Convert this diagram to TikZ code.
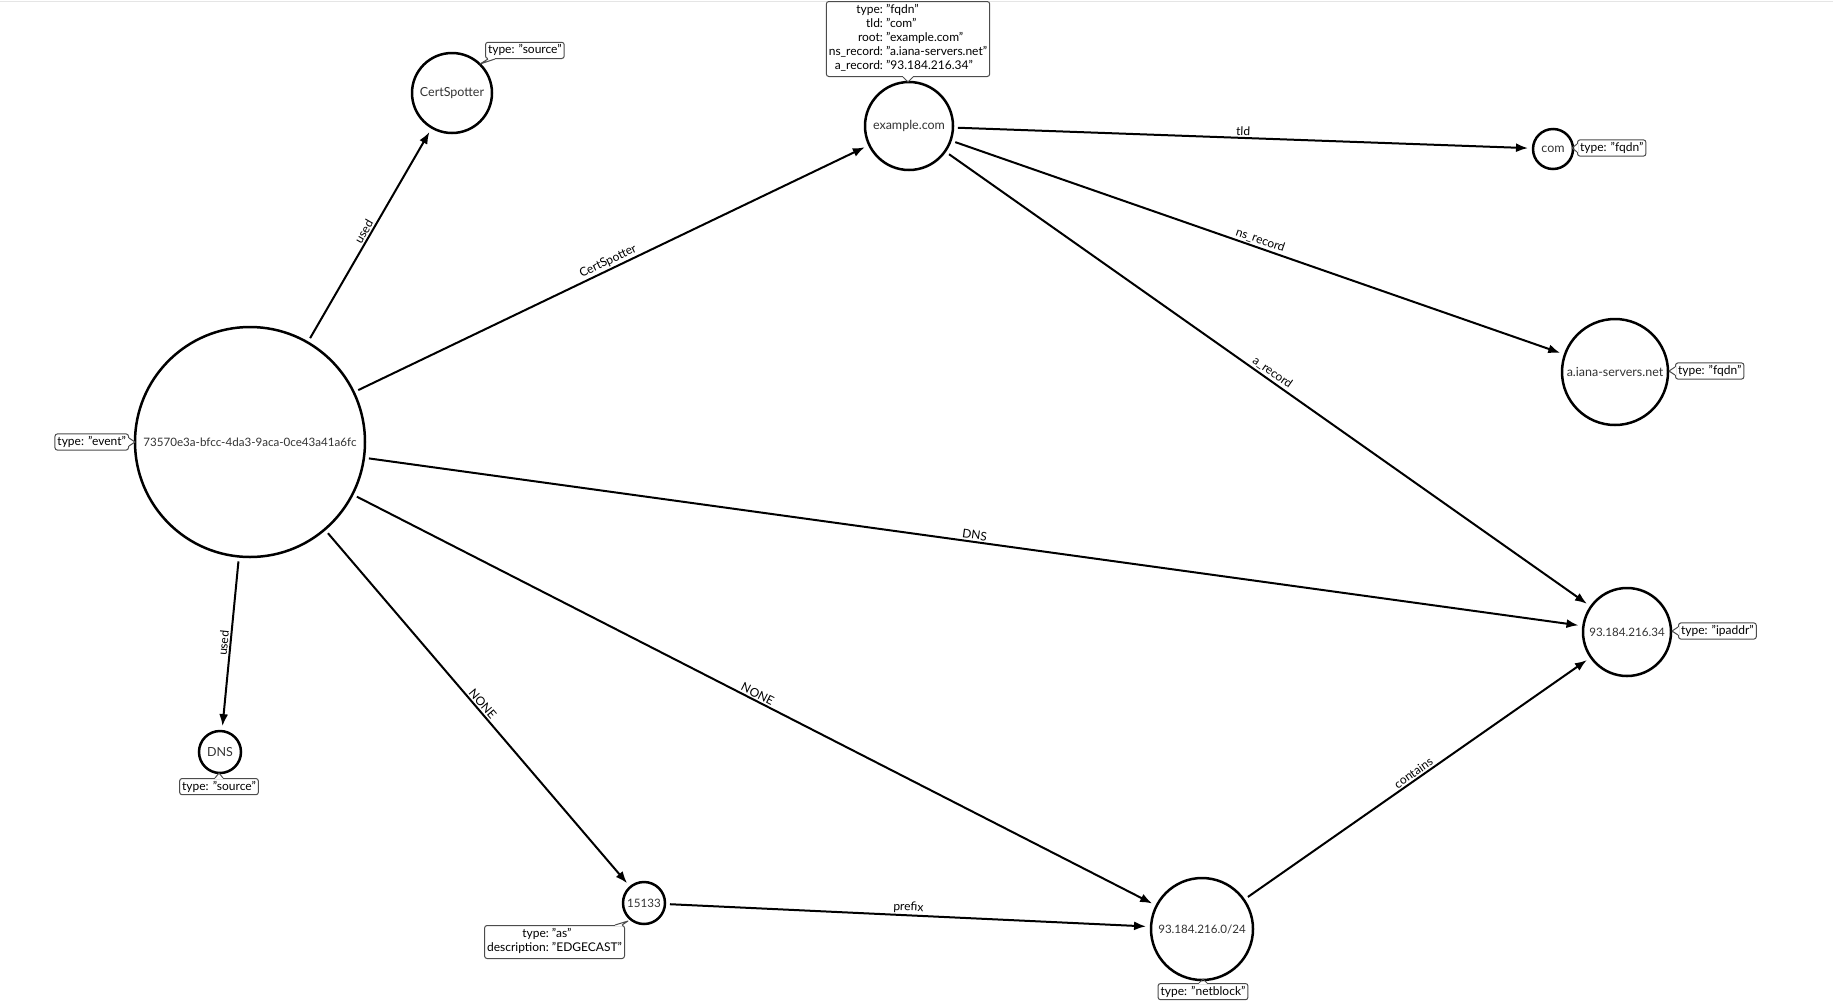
\documentclass[tikz,border=0pt]{standalone}
\usepackage{fontspec}
\setmainfont{Lato}
\usetikzlibrary{arrows.meta,calc}
\newcommand\calloutptr[3]{%
  \draw[white, line width=1.8pt] (#1) -- (#3);
  \draw[draw=black!70, line width=1pt, line join=round] (#1) -- (#2) -- (#3);}
\tikzset{
  ent/.style={circle, draw, line width=2.5pt, fill=white, inner sep=0pt, outer sep=5pt,
    text=black!80, font=\fontsize{12.5}{14}\selectfont},
  numtext/.style={font=\fontsize{11.6}{14}\selectfont},
  rel/.style={line width=2pt, -{Latex[length=12pt,width=9pt]}},
  lbl/.style={midway, sloped, above, inner sep=1.5pt, font=\fontsize{12}{14}\selectfont},
  infobox/.style={draw=black!70, line width=1pt, rounded corners=2.5pt, fill=white,
    inner sep=2.5pt, font=\fontsize{12}{14}\selectfont},
}
\begin{document}
\begin{tikzpicture}[x=1pt, y=-1pt]
\useasboundingbox (0,0) rectangle (1833,1002);
\draw[black!10, line width=1pt] (0,1) -- (1833,1);

% entities
\node[ent, numtext, minimum size=230pt] (ev) at (250,442) {73570e3a-bfcc-4da3-9aca-0ce43a41a6fc};
\node[ent, minimum size=80pt] (cs) at (452,93) {CertSpotter};
\node[ent, minimum size=88pt] (ex) at (909,126) {example.com};
\node[ent, minimum size=40pt] (com) at (1553,149) {com};
\node[ent, minimum size=106pt] (ns) at (1615,372) {a.iana-servers.net};
\node[ent, numtext, minimum size=88pt] (ip) at (1627,632) {93.184.216.34};
\node[ent, numtext, minimum size=102pt] (nb) at (1202,929) {93.184.216.0/24};
\node[ent, numtext, minimum size=42pt] (as) at (644,903) {15133};
\node[ent, minimum size=42pt] (dns) at (220,752) {DNS};

% relations
\draw[rel] (ev) -- node[lbl]{used} (cs);
\draw[rel] (ev) -- node[lbl]{CertSpotter} (ex);
\draw[rel] (ev) -- node[lbl]{DNS} (ip);
\draw[rel] (ev) -- node[lbl]{used} (dns);
\draw[rel] (ev) -- node[lbl]{NONE} (as);
\draw[rel] (ev) -- node[lbl]{NONE} (nb);
\draw[rel] (ex) -- node[lbl]{tld} (com);
\draw[rel] (ex) -- node[lbl]{ns\_record} (ns);
\draw[rel] (ex) -- node[lbl]{a\_record} (ip);
\draw[rel] (as) -- node[lbl]{prefix} (nb);
\draw[rel] (nb) -- node[lbl]{contains} (ip);

% property boxes
\node[infobox, anchor=east] (evb) at (129,442) {type: "event"};
\coordinate (evt) at (135,442);
\calloutptr{$(evb.east)+(0,-4)$}{evt}{$(evb.east)+(0,4)$}

\node[infobox, anchor=south west] (csb) at (485,59) {type: "source"};
\coordinate (cst) at (480,64);
\calloutptr{$(csb.south west)+(3,0)$}{cst}{$(csb.south west)+(10,0)$}

\node[infobox, anchor=south] (exb) at (908,77) {%
  \begin{tabular}{@{}r@{\ }l@{}}
  type: & "fqdn"\\
  tld: & "com"\\
  root: & "example.com"\\
  ns\_record: & "a.iana-servers.net"\\
  a\_record: & "93.184.216.34"
  \end{tabular}};
\coordinate (ext) at (908,82);
\calloutptr{$(exb.south)+(-5,0)$}{ext}{$(exb.south)+(5,0)$}

\node[infobox, anchor=west] (comb) at (1577,148) {type: "fqdn"};
\coordinate (comt) at (1572,148);
\calloutptr{$(comb.west)+(0,-4)$}{comt}{$(comb.west)+(0,4)$}

\node[infobox, anchor=west] (nsb) at (1675,371) {type: "fqdn"};
\coordinate (nst) at (1669,371);
\calloutptr{$(nsb.west)+(0,-4)$}{nst}{$(nsb.west)+(0,4)$}

\node[infobox, anchor=west] (ipb) at (1678,631) {type: "ipaddr"};
\coordinate (ipt) at (1672,631);
\calloutptr{$(ipb.west)+(0,-4)$}{ipt}{$(ipb.west)+(0,4)$}

\node[infobox, anchor=north] (dnsb) at (219,778) {type: "source"};
\coordinate (dnst) at (219,773);
\calloutptr{$(dnsb.north)+(-4,0)$}{dnst}{$(dnsb.north)+(4,0)$}

\node[infobox, anchor=north east] (asb) at (625,925) {%
  \begin{tabular}{@{}r@{\ }l@{}}
  type: & "as"\\
  description: & "EDGECAST"
  \end{tabular}};
\coordinate (ast) at (628,921);
\calloutptr{$(asb.north east)+(-10,0)$}{ast}{$(asb.north east)+(-3,0)$}

\node[infobox, anchor=north] (nbb) at (1203,983) {type: "netblock"};
\coordinate (nbt) at (1203,979);
\calloutptr{$(nbb.north)+(-4,0)$}{nbt}{$(nbb.north)+(4,0)$}
\end{tikzpicture}
\end{document}
